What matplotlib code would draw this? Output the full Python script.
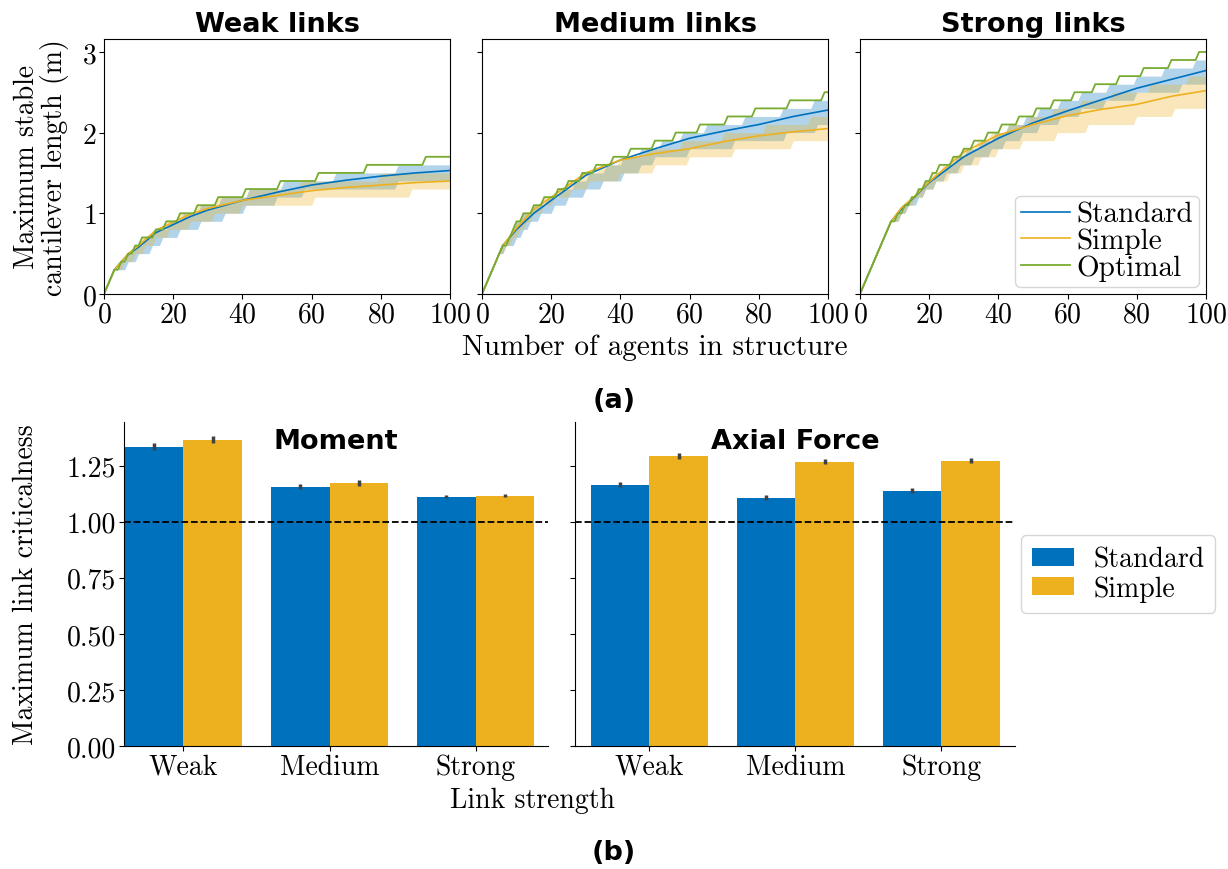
import numpy as np
import matplotlib
matplotlib.use('Agg')
import matplotlib.pyplot as plt

plt.rcParams['font.family'] = 'cmr10'
plt.rcParams['mathtext.fontset'] = 'cm'
plt.rcParams['axes.formatter.use_mathtext'] = True
plt.rcParams['font.size'] = 20

BLUE = '#0072BD'
ORANGE = '#EDB120'
GREEN = '#77AC30'
TITLE_FONT = dict(family='DejaVu Sans', weight='bold', size=19.5)

# ---- (a) cantilever length vs number of agents ----
panel_titles = ['Weak links', 'Medium links', 'Strong links']

# agent count at which each successive 0.1 m level is first reached
weak_opt = [1, 2, 3, 5, 7, 9, 11, 15, 18, 22, 27, 33, 41, 51, 62, 76, 93]
weak_std_hi = [1, 2, 3, 5, 7, 9, 12, 15, 19, 23, 28, 34, 42, 52, 67, 85]
weak_std_lo = [1, 2, 3, 7, 10, 14, 17, 22, 28, 35, 41, 50, 58, 85]
weak_sim_hi = [1, 2, 3, 5, 7, 9, 11, 15, 18, 22, 27, 33, 42, 57, 80]
weak_sim_lo = [1, 2, 3, 6, 9, 12, 15, 19, 25, 32, 40, 61, 89]

medium_opt = [1, 2, 3, 4, 5, 6, 8, 9, 10, 12, 15, 18, 22, 25, 29, 33, 38, 43,
              50, 56, 63, 71, 79, 89, 99]
medium_std_hi = [1, 2, 3, 4, 5, 6, 8, 9, 10, 12, 15, 19, 23, 27, 31, 36, 41,
                 46, 52, 58, 65, 76, 87, 96]
medium_std_lo = [1, 2, 3, 4, 5, 7, 10, 12, 14, 17, 21, 25, 30, 35, 41, 46, 50,
                 60, 73, 88, 97]
medium_sim_hi = [1, 2, 3, 4, 5, 6, 8, 9, 10, 12, 15, 18, 22, 25, 29, 34, 40,
                 48, 58, 70, 82, 95]
medium_sim_lo = [1, 2, 3, 4, 5, 7, 9, 11, 13, 15, 18, 21, 26, 31, 40, 50, 60,
                 73, 90]

strong_opt = [1, 2, 3, 4, 5, 6, 7, 8, 9, 11, 13, 15, 17, 19, 21, 23, 27, 30,
              33, 37, 41, 46, 51, 56, 62, 68, 75, 82, 90, 98]
strong_std_hi = [1, 2, 3, 4, 5, 6, 7, 8, 9, 11, 13, 15, 17, 19, 22, 25, 28,
                 31, 35, 39, 43, 48, 52, 58, 64, 72, 80, 88, 97]
strong_std_lo = [1, 2, 3, 4, 5, 6, 7, 8, 9, 12, 14, 17, 19, 22, 25, 29, 33,
                 38, 42, 47, 52, 58, 64, 71, 80, 93]
strong_sim_hi = [1, 2, 3, 4, 5, 6, 7, 8, 9, 11, 13, 15, 17, 19, 21, 24, 27,
                 30, 34, 38, 43, 49, 56, 64, 73, 84, 95]
strong_sim_lo = [1, 2, 3, 4, 5, 6, 7, 8, 9, 12, 14, 16, 19, 22, 26, 30, 35,
                 40, 47, 57, 66, 80, 91]

# mean curves (agent count, length in m)
weak_n = [0, 3, 5, 7, 10, 15, 20, 25, 30, 40, 50, 60, 70, 80, 90, 100]
weak_std = [0, 0.3, 0.4, 0.49, 0.58, 0.76, 0.86, 0.96, 1.04, 1.16, 1.26, 1.35,
            1.41, 1.46, 1.50, 1.53]
weak_sim = [0, 0.3, 0.4, 0.5, 0.6, 0.79, 0.89, 0.99, 1.06, 1.16, 1.22, 1.28,
            1.32, 1.35, 1.38, 1.40]

medium_n = [0, 6, 10, 15, 20, 30, 40, 50, 60, 70, 80, 90, 100]
medium_std = [0, 0.6, 0.8, 1.0, 1.16, 1.47, 1.66, 1.80, 1.93, 2.02, 2.10,
              2.20, 2.28]
medium_sim = [0, 0.6, 0.82, 1.05, 1.2, 1.5, 1.66, 1.74, 1.80, 1.89, 1.96,
              2.01, 2.05]

strong_n = [0, 9, 12, 15, 20, 30, 40, 50, 60, 70, 80, 90, 100]
strong_std = [0, 0.9, 1.05, 1.17, 1.38, 1.70, 1.93, 2.12, 2.27, 2.41, 2.55,
              2.66, 2.77]
strong_sim = [0, 0.9, 1.07, 1.18, 1.39, 1.76, 1.97, 2.10, 2.21, 2.29, 2.35,
              2.45, 2.52]

# ---- (b) maximum link criticalness ----
link_types = ['Weak', 'Medium', 'Strong']
moment_std = [1.335, 1.156, 1.112]
moment_std_err = [0.016, 0.011, 0.007]
moment_sim = [1.366, 1.174, 1.116]
moment_sim_err = [0.016, 0.013, 0.007]
axial_std = [1.165, 1.107, 1.138]
axial_std_err = [0.011, 0.011, 0.011]
axial_sim = [1.295, 1.268, 1.272]
axial_sim_err = [0.013, 0.011, 0.011]


def level_steps(first_n, n):
    # length in m reached at every agent count, 0.1 m per level
    return 0.1 * np.searchsorted(first_n, n, side='right')


fig = plt.figure(figsize=(12.28, 8.7), dpi=100)

n = np.arange(101)
top_data = [
    (weak_opt, weak_std_hi, weak_std_lo, weak_sim_hi, weak_sim_lo,
     weak_n, weak_std, weak_sim),
    (medium_opt, medium_std_hi, medium_std_lo, medium_sim_hi, medium_sim_lo,
     medium_n, medium_std, medium_sim),
    (strong_opt, strong_std_hi, strong_std_lo, strong_sim_hi, strong_sim_lo,
     strong_n, strong_std, strong_sim),
]
lefts = [0.0847, 0.3925, 0.7003]
top_axes = []
for i, (opt, shi, slo, mhi, mlo, mn, mstd, msim) in enumerate(top_data):
    ax = fig.add_axes([lefts[i], 0.661, 0.2818, 0.293])
    ax.fill_between(n, level_steps(slo, n), level_steps(shi, n),
                    color=BLUE, alpha=0.3, lw=0)
    ax.fill_between(n, level_steps(mlo, n), level_steps(mhi, n),
                    color=ORANGE, alpha=0.3, lw=0)
    ax.plot(mn, mstd, color=BLUE, lw=1.2, label='Standard')
    ax.plot(mn, msim, color=ORANGE, lw=1.2, label='Simple')
    ax.plot(n, level_steps(opt, n), color=GREEN, lw=1.3, label='Optimal')
    ax.set_xlim(0, 100)
    ax.set_ylim(0, 3.16)
    ax.set_xticks([0, 20, 40, 60, 80, 100])
    ax.set_yticks([0, 1, 2, 3])
    ax.tick_params(labelsize=20, pad=2)
    ax.set_title(panel_titles[i], fontdict=TITLE_FONT, pad=6)
    if i > 0:
        ax.set_yticklabels([])
    top_axes.append(ax)

top_axes[0].set_ylabel('Maximum stable\ncantilever length (m)', fontsize=20,
                       linespacing=1.0, labelpad=9)
top_axes[1].set_xlabel('Number of agents in structure', fontsize=21,
                       labelpad=4)
top_axes[2].legend(loc='lower right', fontsize=21, handlelength=1.7,
                   handletextpad=0.2, labelspacing=0.0, borderpad=0.2,
                   borderaxespad=0.25, fancybox=True)

# bottom bar panels
bot_specs = [
    ('Moment', moment_std, moment_std_err, moment_sim, moment_sim_err,
     [0.101, 0.1414, 0.3453, 0.3724], (-0.407, 2.496)),
    ('Axial Force', axial_std, axial_std_err, axial_sim, axial_sim_err,
     [0.4682, 0.1414, 0.3583, 0.3724], (-0.51, 2.503)),
]
x = np.arange(len(link_types))
bot_axes = []
for j, (title, sv, se, mv, me, pos, xl) in enumerate(bot_specs):
    ax = fig.add_axes(pos)
    ax.bar(x - 0.2, sv, 0.4, color=BLUE, label='Standard', zorder=2)
    ax.bar(x + 0.2, mv, 0.4, color=ORANGE, label='Simple', zorder=2)
    ax.errorbar(x - 0.2, sv, yerr=se, fmt='none', ecolor='#424242',
                elinewidth=2.5, zorder=3)
    ax.errorbar(x + 0.2, mv, yerr=me, fmt='none', ecolor='#424242',
                elinewidth=2.5, zorder=3)
    ax.axhline(1.0, color='black', ls='--', lw=1.3, zorder=4)
    ax.set_xlim(*xl)
    ax.set_ylim(0, 1.445)
    ax.set_yticks([0, 0.25, 0.5, 0.75, 1.0, 1.25])
    ax.set_yticklabels(['0.00', '0.25', '0.50', '0.75', '1.00', '1.25'])
    ax.set_xticks(x)
    ax.set_xticklabels(link_types)
    ax.tick_params(labelsize=20, pad=2)
    ax.spines['top'].set_visible(False)
    ax.spines['right'].set_visible(False)
    ax.set_title(title, fontdict=TITLE_FONT, y=0.92, pad=0)
    if j > 0:
        ax.set_yticklabels([])
    bot_axes.append(ax)

bot_axes[0].set_ylabel('Maximum link criticalness', fontsize=20, labelpad=20)
fig.text(0.434, 0.08, 'Link strength', ha='center', va='center', fontsize=20)
handles, labels = bot_axes[1].get_legend_handles_labels()
fig.legend(handles, labels, loc='center left', bbox_to_anchor=(0.82, 0.339),
           fontsize=20, handlelength=1.5, handleheight=0.6,
           handletextpad=0.7, labelspacing=0.1, borderpad=0.4)

fig.text(0.5, 0.539, '(a)', ha='center', va='center', fontdict=TITLE_FONT)
fig.text(0.5, 0.0195, '(b)', ha='center', va='center', fontdict=TITLE_FONT)

fig.savefig('out.png', dpi=100)
